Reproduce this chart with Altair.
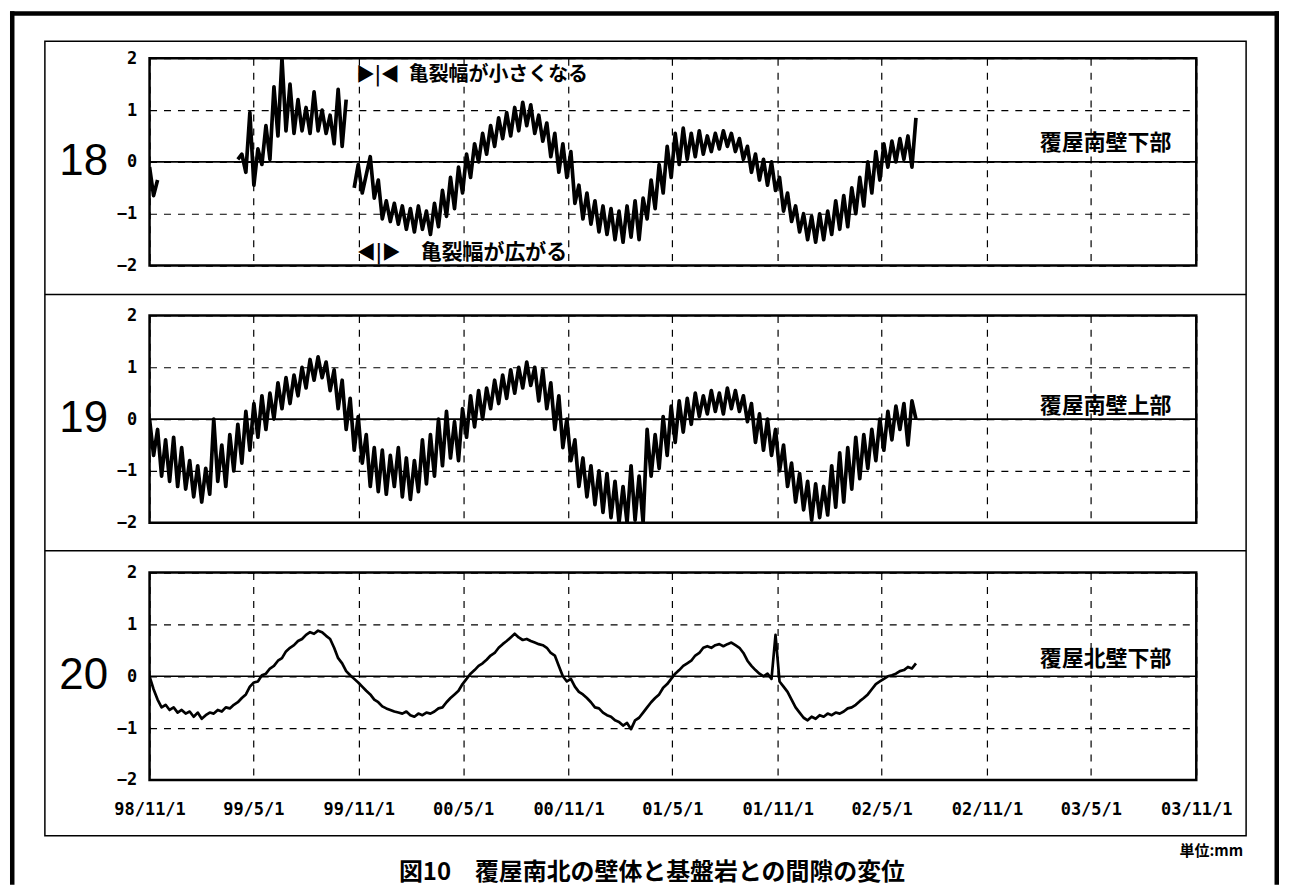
import altair as alt
import pandas as pd

# ---------------- data (weekly samples) ----------------
START = "1998-11-01"
N = 192
dates = pd.date_range(START, periods=N, freq="7D").strftime("%Y-%m-%d").tolist()

tick_years_months = [(1998, 11), (1999, 5), (1999, 11), (2000, 5), (2000, 11), (2001, 5),
                     (2001, 11), (2002, 5), (2002, 11), (2003, 5), (2003, 11)]
tick_labels = ["98/11/1", "99/5/1", "99/11/1", "00/5/1", "00/11/1", "01/5/1",
               "01/11/1", "02/5/1", "02/11/1", "03/5/1", "03/11/1"]

panel_ids = ["18", "19", "20"]
panel_names = ["覆屋南壁下部", "覆屋南壁上部", "覆屋北壁下部"]
panel_name_y = [0.36, 0.25, 0.34]

s18 = ([-0.1, -0.65, -0.35] + [None] * 19 +
       [0.05, 0.15, -0.2, 0.95, -0.45, 0.25, -0.05, 0.7, 0.05, 1.45,
        0.5, 2.0, 0.6, 1.5, 0.55, 1.2, 0.6, 1.05, 0.55, 1.35,
        0.6, 1.0, 0.55, 0.9, 0.35, 1.4, 0.3, 1.2] +
       [None] +
       [-0.5, -0.05, -0.6, -0.25, 0.1, -0.7, -0.35, -1.1, -0.75,
        -1.15, -0.8, -1.2, -0.85, -1.3, -0.9, -1.35, -0.85, -1.3, -0.95,
        -1.4, -0.8, -1.25, -0.55, -1.05, -0.3, -0.9, -0.1, -0.6, 0.15,
        -0.3, 0.35, 0.0, 0.55, 0.15, 0.7, 0.3, 0.85, 0.45, 0.95,
        0.5, 1.05, 0.6, 1.15, 0.7, 1.1, 0.55, 0.9, 0.4, 0.75,
        0.1, 0.55, -0.2, 0.35, -0.3, 0.2, -0.8, -0.45, -1.1, -0.6,
        -1.2, -0.75, -1.35, -0.85, -1.4, -0.9, -1.5, -0.95, -1.55, -0.85,
        -1.45, -0.75, -1.5, -0.7, -1.1, -0.35, -0.9, -0.05, -0.6, 0.3,
        -0.3, 0.55, -0.05, 0.65, 0.05, 0.55, 0.1, 0.6, 0.15, 0.5,
        0.2, 0.55, 0.25, 0.6, 0.3, 0.55, 0.2, 0.45, 0.05, 0.3,
        -0.2, 0.15, -0.35, 0.05, -0.45, 0.0, -0.55, -0.3, -0.95, -0.6,
        -1.15, -0.85, -1.35, -1.0, -1.5, -1.05, -1.55, -1.0, -1.5, -0.95,
        -1.4, -0.75, -1.3, -0.65, -1.25, -0.5, -1.0, -0.3, -0.85, 0.0,
        -0.6, 0.2, -0.35, 0.35, -0.1, 0.4, 0.0, 0.45, 0.05, 0.5,
        -0.1, 0.85])

s19 = [0.0, -0.7, -0.2, -1.1, -0.4, -1.2, -0.35, -1.3, -0.55, -1.35,
       -0.8, -1.5, -0.9, -1.6, -0.95, -1.45, 0.0, -1.2, -0.5, -1.3,
       -0.3, -1.0, -0.1, -0.85, 0.15, -0.6, 0.3, -0.35, 0.45, -0.2,
       0.5, 0.0, 0.7, 0.2, 0.8, 0.3, 0.85, 0.45, 1.0, 0.6,
       1.15, 0.75, 1.2, 0.8, 1.1, 0.55, 0.95, 0.2, 0.75, -0.2,
       0.4, -0.6, 0.05, -0.85, -0.3, -1.3, -0.55, -1.4, -0.6, -1.45,
       -0.7, -1.3, -0.55, -1.5, -0.75, -1.55, -0.8, -1.4, -0.4, -1.25,
       -0.3, -1.1, 0.0, -0.9, 0.15, -0.75, -0.05, -0.8, 0.2, -0.35,
       0.45, -0.15, 0.55, 0.0, 0.6, 0.2, 0.75, 0.3, 0.85, 0.4,
       0.95, 0.5, 1.0, 0.6, 1.1, 0.65, 1.0, 0.35, 0.95, 0.2,
       0.7, -0.2, 0.45, -0.55, 0.0, -0.8, -0.4, -1.3, -0.75, -1.5,
       -0.9, -1.65, -1.0, -1.8, -1.05, -1.9, -1.2, -2.0, -1.3, -2.0,
       -0.9, -1.95, -1.1, -2.0, -0.2, -1.1, -0.3, -0.95, 0.05, -0.7,
       0.25, -0.45, 0.35, -0.25, 0.4, -0.1, 0.5, 0.05, 0.45, 0.1,
       0.55, 0.15, 0.5, 0.1, 0.6, 0.2, 0.55, 0.15, 0.45, -0.05,
       0.3, -0.45, 0.1, -0.6, 0.0, -0.7, -0.2, -1.0, -0.5, -1.3,
       -0.85, -1.6, -1.05, -1.75, -1.2, -1.95, -1.25, -1.9, -1.3, -1.85,
       -0.9, -1.7, -0.65, -1.6, -0.55, -1.35, -0.35, -1.15, -0.3, -0.95,
       -0.2, -0.8, 0.0, -0.6, 0.15, -0.4, 0.25, -0.2, 0.3, -0.5,
       0.35, 0.0]

s20 = [0.0, -0.25, -0.45, -0.6, -0.55, -0.65, -0.6, -0.7, -0.65, -0.72,
       -0.68, -0.78, -0.7, -0.82, -0.75, -0.7, -0.72, -0.65, -0.68, -0.6,
       -0.62, -0.55, -0.5, -0.42, -0.35, -0.2, -0.12, -0.1, 0.02, 0.05,
       0.15, 0.2, 0.3, 0.35, 0.48, 0.55, 0.6, 0.68, 0.72, 0.8,
       0.85, 0.82, 0.88, 0.85, 0.78, 0.72, 0.55, 0.35, 0.25, 0.1,
       0.02, -0.05, -0.12, -0.2, -0.28, -0.35, -0.45, -0.5, -0.58, -0.62,
       -0.65, -0.68, -0.7, -0.72, -0.68, -0.75, -0.78, -0.72, -0.75, -0.7,
       -0.72, -0.68, -0.62, -0.6, -0.5, -0.42, -0.35, -0.28, -0.15, -0.05,
       0.05, 0.12, 0.2, 0.25, 0.32, 0.4, 0.45, 0.55, 0.62, 0.68,
       0.75, 0.82, 0.75, 0.7, 0.72, 0.68, 0.65, 0.62, 0.6, 0.55,
       0.45, 0.4, 0.2, 0.0, -0.1, -0.05, -0.2, -0.3, -0.35, -0.42,
       -0.5, -0.6, -0.62, -0.7, -0.75, -0.78, -0.85, -0.88, -0.95, -0.9,
       -1.02, -0.85, -0.8, -0.7, -0.6, -0.5, -0.42, -0.35, -0.22, -0.15,
       -0.05, 0.05, 0.12, 0.2, 0.25, 0.3, 0.4, 0.45, 0.55, 0.58,
       0.55, 0.6, 0.62, 0.58, 0.62, 0.65, 0.6, 0.55, 0.45, 0.3,
       0.2, 0.12, 0.05, 0.0, 0.05, -0.05, 0.8, -0.1, -0.2, -0.3,
       -0.45, -0.6, -0.7, -0.8, -0.85, -0.78, -0.82, -0.75, -0.78, -0.72,
       -0.75, -0.7, -0.72, -0.68, -0.62, -0.6, -0.55, -0.48, -0.42, -0.35,
       -0.25, -0.15, -0.1, -0.05, 0.0, 0.02, 0.05, 0.1, 0.12, 0.18,
       0.15, 0.25]

series = [s18, s19, s20]
for s in series:
    assert len(s) == N, len(s)

# ---------------- styling ----------------
FONT_MONO = "DejaVu Sans Mono"
FONT_JP = "Noto Sans CJK JP"
FONT_BIG = "Liberation Sans Narrow, Liberation Sans, Arial"
W, H = 1050, 208
SPACING = 50

x_domain = [alt.DateTime(year=1998, month=11, date=1, utc=True),
            alt.DateTime(year=2003, month=11, date=1, utc=True)]
x_ticks = [alt.DateTime(year=y, month=m, date=1, utc=True) for y, m in tick_years_months]

# label expression built from the tick label list
label_expr = "''"
for (y, m), lab in reversed(list(zip(tick_years_months, tick_labels))):
    label_expr = f"utcFormat(datum.value, '%Y-%m') == '{y}-{m:02d}' ? '{lab}' : ({label_expr})"

one = alt.Data(values=[{"k": 0}])


def to_rows(values):
    rows, seg = [], 0
    for d, v in zip(dates, values):
        if v is None:
            seg += 1
            continue
        rows.append({"date": d, "v": v, "seg": seg})
    return pd.DataFrame(rows)


def panel(idx, show_x):
    df = to_rows(series[idx])
    x_axis = alt.Axis(values=x_ticks, grid=True, labels=show_x, labelExpr=label_expr,
                      labelFlush=False, labelOverlap=False, labelPadding=22, title=None)
    y_axis = alt.Axis(values=[-2, -1, 0, 1, 2], format="d", grid=True, labelPadding=13,
                      title=None)
    line = alt.Chart(df).mark_line(color="black", strokeWidth=3.7 if idx < 2 else 2.7,
                                   strokeJoin="round", clip=True).encode(
        x=alt.X("date:T", scale=alt.Scale(type="utc", domain=x_domain), axis=x_axis),
        y=alt.Y("v:Q", scale=alt.Scale(domain=[-2, 2], nice=False, zero=False), axis=y_axis),
        detail="seg:N",
    )
    zero = alt.Chart(one).mark_rule(color="black", strokeWidth=1.6).encode(y=alt.datum(0))
    big = alt.Chart(one).mark_text(text=panel_ids[idx], font=FONT_BIG, fontSize=44,
                                   align="center", baseline="middle", color="black").encode(
        x=alt.value(-66), y=alt.datum(0))
    name = alt.Chart(one).mark_text(text=panel_names[idx], font=FONT_JP, fontWeight="bold",
                                    fontSize=22, align="right", baseline="middle",
                                    color="black").encode(
        x=alt.value(1025), y=alt.datum(panel_name_y[idx]))
    return [line, zero, big, name]


def rule(x, y, x2=None, y2=None, width=1.5):
    enc = {"x": alt.value(x), "y": alt.value(y)}
    if x2 is not None:
        enc["x2"] = alt.value(x2)
    if y2 is not None:
        enc["y2"] = alt.value(y2)
    return alt.Chart(one).mark_rule(color="black", strokeWidth=width).encode(**enc)


def bar(x, x2, y, y2):
    return alt.Chart(one).mark_rect(color="black").encode(
        x=alt.value(x), x2=alt.value(x2), y=alt.value(y), y2=alt.value(y2))


def label(txt, x, y, size, align="left", weight="bold", font=FONT_JP, baseline="middle"):
    return alt.Chart(one).mark_text(text=txt, font=font, fontSize=size, fontWeight=weight,
                                    align=align, baseline=baseline, color="black").encode(
        x=alt.value(x), y=alt.value(y))


# decorations drawn in panel-1 pixel coordinates (panel-1 origin = page 148,55)
deco = [
    # outer thick frame (left, top, right)
    bar(-140, -135.5, -47, 829),
    bar(-140, 1133, -47, -42.5),
    bar(1128.5, 1133, -47, 829),
    # thin frame around the three panels + separators
    alt.Chart(one).mark_rect(fillOpacity=0, stroke="black", strokeWidth=1.5).encode(
        x=alt.value(-105), x2=alt.value(1100), y=alt.value(-17), y2=alt.value(780)),
    rule(-105, 237, x2=1100, width=1.5),
    rule(-105, 494, x2=1100, width=1.5),
    # annotations
    label("▶|◀", 229, 17, 19, align="center"),
    label("亀裂幅が小さくなる", 260, 17, 20),
    label("◀|▶", 230, 195, 19, align="center"),
    label("亀裂幅が広がる", 272, 195, 21),
    label("単位:mm", 1097, 795, 15, align="right"),
    label("図10　覆屋南北の壁体と基盤岩との間隙の変位", 504, 829, 24, align="center",
          baseline="bottom"),
]

p1 = alt.layer(*(panel(0, False) + deco)).properties(width=W, height=H)
p2 = alt.layer(*panel(1, False)).properties(width=W, height=H)
p3 = alt.layer(*panel(2, True)).properties(width=W, height=H)

chart = alt.vconcat(p1, p2, p3, spacing=SPACING, bounds="flush").properties(
    padding={"left": 0, "top": 0, "right": 0, "bottom": 0}
).configure_view(
    stroke="black", strokeWidth=2.5
).configure_axis(
    labelFont=FONT_MONO, labelFontWeight="bold", labelFontSize=17, labelColor="black",
    gridColor="black", gridDash=[7, 7], gridWidth=1.2, gridOpacity=1,
    domain=False, ticks=False,
)

chart.save("out.html", embed_options={"renderer": "svg", "actions": False})
